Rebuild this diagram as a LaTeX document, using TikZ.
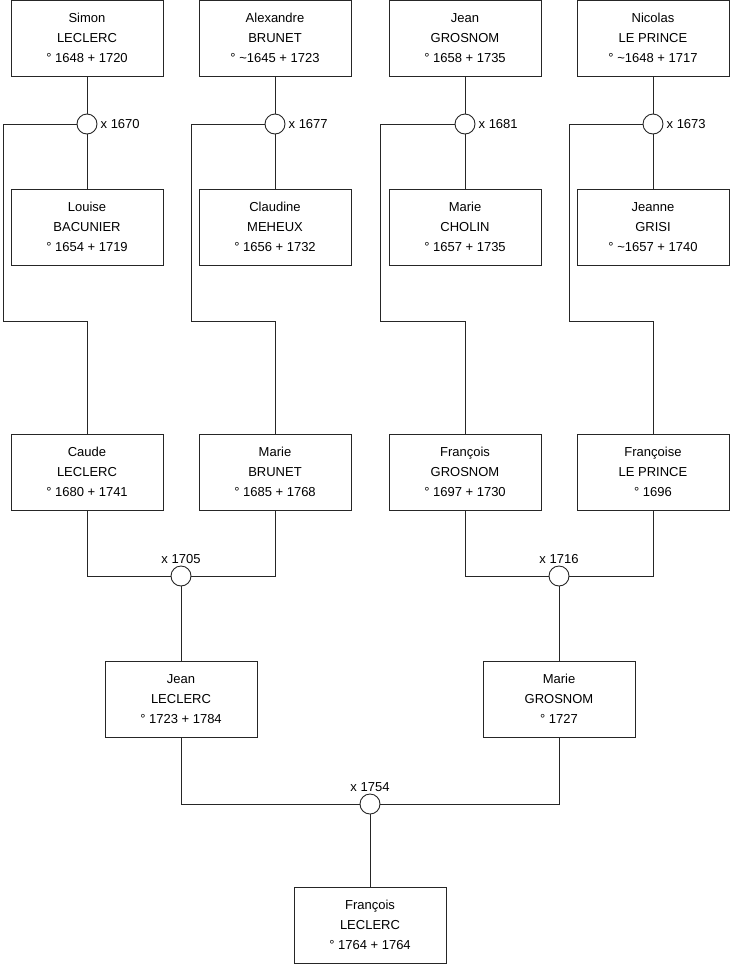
\documentclass[tikz,border=0pt]{standalone}
\usepackage{fontspec}
\setmainfont{Liberation Sans}
\usepackage{tikz}
\usetikzlibrary{positioning}

\begin{document}
\begin{tikzpicture}[
  x=1pt, y=-1pt,
  person/.style={draw=black!85, rectangle, line width=0.9pt, minimum width=152pt,
                 minimum height=76pt, align=center,
                 font=\fontsize{13}{20}\selectfont},
  marr/.style={draw=black!85, circle, line width=0.9pt, minimum size=20pt, inner sep=0pt},
  date/.style={font=\fontsize{13}{15}\selectfont, inner sep=2pt},
  link/.style={draw=black!85, line width=0.9pt}
]
  \useasboundingbox (0,0) rectangle (740,975);

  % great-grandparents
  \node[person] (simon)     at (87,38)  {Simon\\LECLERC\\° 1648 + 1720};
  \node[person] (alexandre) at (275,38) {Alexandre\\BRUNET\\° \textasciitilde1645 + 1723};
  \node[person] (jeanG)     at (465,38) {Jean\\GROSNOM\\° 1658 + 1735};
  \node[person] (nicolas)   at (653,38) {Nicolas\\LE PRINCE\\° \textasciitilde1648 + 1717};

  \node[person] (louise)    at (87,227)  {Louise\\BACUNIER\\° 1654 + 1719};
  \node[person] (claudine)  at (275,227) {Claudine\\MEHEUX\\° 1656 + 1732};
  \node[person] (marieC)    at (465,227) {Marie\\CHOLIN\\° 1657 + 1735};
  \node[person] (jeanne)    at (653,227) {Jeanne\\GRISI\\° \textasciitilde1657 + 1740};

  \node[marr] (m1670) at (87,124)  {};
  \node[marr] (m1677) at (275,124) {};
  \node[marr] (m1681) at (465,124) {};
  \node[marr] (m1673) at (653,124) {};
  \node[date, right=1pt of m1670] {x 1670};
  \node[date, right=1pt of m1677] {x 1677};
  \node[date, right=1pt of m1681] {x 1681};
  \node[date, right=1pt of m1673] {x 1673};

  % grandparents
  \node[person] (caude)     at (87,472)  {Caude\\LECLERC\\° 1680 + 1741};
  \node[person] (marieB)    at (275,472) {Marie\\BRUNET\\° 1685 + 1768};
  \node[person] (francois)  at (465,472) {François\\GROSNOM\\° 1697 + 1730};
  \node[person] (francoise) at (653,472) {Françoise\\LE PRINCE\\° 1696};

  \node[marr] (m1705) at (181,576) {};
  \node[marr] (m1716) at (559,576) {};
  \node[date, above=0pt of m1705] {x 1705};
  \node[date, above=0pt of m1716] {x 1716};

  % parents
  \node[person] (jeanL)  at (181,699) {Jean\\LECLERC\\° 1723 + 1784};
  \node[person] (marieG) at (559,699) {Marie\\GROSNOM\\° 1727};

  \node[marr] (m1754) at (370,804) {};
  \node[date, above=0pt of m1754] {x 1754};

  \node[person] (francoisL) at (370,925) {François\\LECLERC\\° 1764 + 1764};

  % bends
  \coordinate (b1) at (3,321);
  \coordinate (b2) at (191,321);
  \coordinate (b3) at (380,321);
  \coordinate (b4) at (569,321);

  \draw[link] (simon) -- (m1670) -- (louise);
  \draw[link] (alexandre) -- (m1677) -- (claudine);
  \draw[link] (jeanG) -- (m1681) -- (marieC);
  \draw[link] (nicolas) -- (m1673) -- (jeanne);

  \draw[link] (m1670.west) -| (b1) -| (caude.north);
  \draw[link] (m1677.west) -| (b2) -| (marieB.north);
  \draw[link] (m1681.west) -| (b3) -| (francois.north);
  \draw[link] (m1673.west) -| (b4) -| (francoise.north);

  \draw[link] (caude.south) |- (m1705.west);
  \draw[link] (marieB.south) |- (m1705.east);
  \draw[link] (francois.south) |- (m1716.west);
  \draw[link] (francoise.south) |- (m1716.east);
  \draw[link] (m1705) -- (jeanL);
  \draw[link] (m1716) -- (marieG);

  \draw[link] (jeanL.south) |- (m1754.west);
  \draw[link] (marieG.south) |- (m1754.east);
  \draw[link] (m1754) -- (francoisL);
\end{tikzpicture}
\end{document}
